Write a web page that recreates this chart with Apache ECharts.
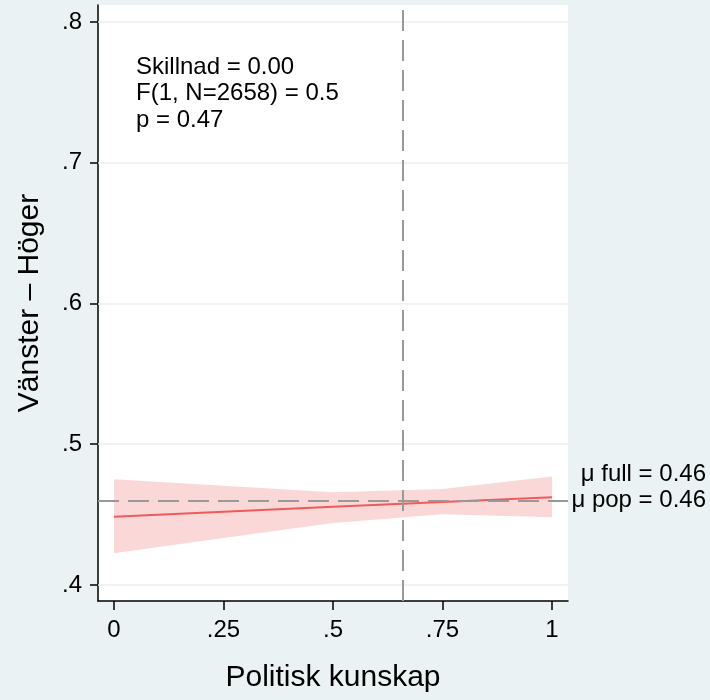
<!DOCTYPE html>
<html>
<head>
<meta charset="utf-8">
<script src="https://cdn.jsdelivr.net/npm/echarts@6/dist/echarts.min.js"></script>
<style>
html,body{margin:0;padding:0;background:#eaf2f4;}
#chart{width:710px;height:700px;}
</style>
</head>
<body>
<div id="chart"></div>
<script>
// ---- data ----
const xs = [0, 0.25, 0.5, 0.75, 1];
const fit = [0.4485, 0.452, 0.4555, 0.459, 0.4623];
const upper = [0.4751, 0.4705, 0.4659, 0.4682, 0.477];
const lower = [0.4225, 0.4333, 0.4441, 0.4502, 0.4481];
const muFull = 0.46;
const muPop = 0.46;
const cutoff = 0.6575;
const xTicks = [0, 0.25, 0.5, 0.75, 1];
const xTickLabels = ['0', '.25', '.5', '.75', '1'];
const yTicks = [0.4, 0.5, 0.6, 0.7, 0.8];
const yTickLabels = ['.4', '.5', '.6', '.7', '.8'];
const statLines = ['Skillnad = 0.00', 'F(1, N=2658) = 0.5', 'p = 0.47'];
const muLabels = ['\u03bc full = 0.46', '\u03bc pop = 0.46'];
const xTitle = 'Politisk kunskap';
const yTitle = 'V\u00e4nster \u2013 H\u00f6ger';

const FONT = '"Liberation Sans", Arial, sans-serif';
const chart = echarts.init(document.getElementById('chart'));

function lab(ticks, labels) {
  return function (v) {
    for (let i = 0; i < ticks.length; i++) if (Math.abs(ticks[i] - v) < 1e-9) return labels[i];
    return '';
  };
}

const option = {
  backgroundColor: '#eaf2f4',
  animation: false,
  grid: {left: 98, top: 5, width: 470, height: 596, show: true, backgroundColor: '#ffffff', borderWidth: 0, containLabel: false},
  xAxis: {
    type: 'value', min: -0.0365, max: 1.0365,
    name: xTitle, nameLocation: 'middle', nameGap: 62,
    nameTextStyle: {fontFamily: FONT, fontSize: 30, color: '#000'},
    axisLine: {show: true, onZero: false, lineStyle: {color: '#000', width: 1.5}},
    axisTick: {show: true, length: 9, customValues: xTicks, lineStyle: {color: '#000', width: 1.5}},
    axisLabel: {customValues: xTicks, formatter: lab(xTicks, xTickLabels), fontFamily: FONT, fontSize: 24, color: '#000', margin: 17},
    splitLine: {show: false}
  },
  yAxis: [{
    type: 'value', min: 0.3886, max: 0.8121,
    name: yTitle, nameLocation: 'middle', nameGap: 53, nameRotate: 90,
    nameTextStyle: {fontFamily: FONT, fontSize: 30, color: '#000'},
    axisLine: {show: true, onZero: false, lineStyle: {color: '#000', width: 1.5}},
    axisTick: {show: true, length: 8, customValues: yTicks, lineStyle: {color: '#000', width: 1.5}},
    axisLabel: {customValues: yTicks, formatter: lab(yTicks, yTickLabels), fontFamily: FONT, fontSize: 24, color: '#000', margin: 16},
    splitLine: {show: false}
  }, {
    type: 'value', min: 0.3886, max: 0.8121, position: 'right',
    axisLine: {show: false},
    axisTick: {show: true, length: 7, customValues: [muPop], lineStyle: {color: '#999', width: 2}},
    axisLabel: {show: false},
    splitLine: {show: false}
  }],
  graphic: [
    {type: 'text', left: 136, top: 54, style: {text: statLines.join('\n'), font: '24px ' + FONT, fill: '#000', lineHeight: 26.5}},
    {type: 'text', right: 4, top: 462, style: {text: muLabels[0], font: '24px ' + FONT, fill: '#000', textAlign: 'right'}},
    {type: 'text', right: 4, top: 488, style: {text: muLabels[1], font: '24px ' + FONT, fill: '#000', textAlign: 'right'}}
  ],
  series: [
    {
      type: 'line', data: [], silent: true,
      markLine: {
        symbol: 'none', silent: true, label: {show: false},
        lineStyle: {color: '#e8f0f2', width: 1.5, type: 'solid'},
        data: yTicks.map(v => ({yAxis: v}))
      }
    },
    {
      type: 'custom', silent: true, z: 2,
      data: [0],
      renderItem: function (params, api) {
        const pts = [];
        for (let i = 0; i < xs.length; i++) pts.push(api.coord([xs[i], upper[i]]));
        for (let i = xs.length - 1; i >= 0; i--) pts.push(api.coord([xs[i], lower[i]]));
        return {type: 'polygon', shape: {points: pts}, style: {fill: '#fad8d8'}};
      }
    },
    {
      type: 'line', data: [], silent: true, z: 3,
      markLine: {
        symbol: 'none', silent: true, label: {show: false},
        lineStyle: {color: '#999999', width: 2, type: [21, 9]},
        data: [{yAxis: muFull}, {yAxis: muPop}, {xAxis: cutoff}]
      }
    },
    {
      type: 'line', z: 4, silent: true, symbol: 'none',
      data: xs.map((x, i) => [x, fit[i]]),
      lineStyle: {color: '#f05a5b', width: 2}
    }
  ]
};
chart.setOption(option);
</script>
</body>
</html>
